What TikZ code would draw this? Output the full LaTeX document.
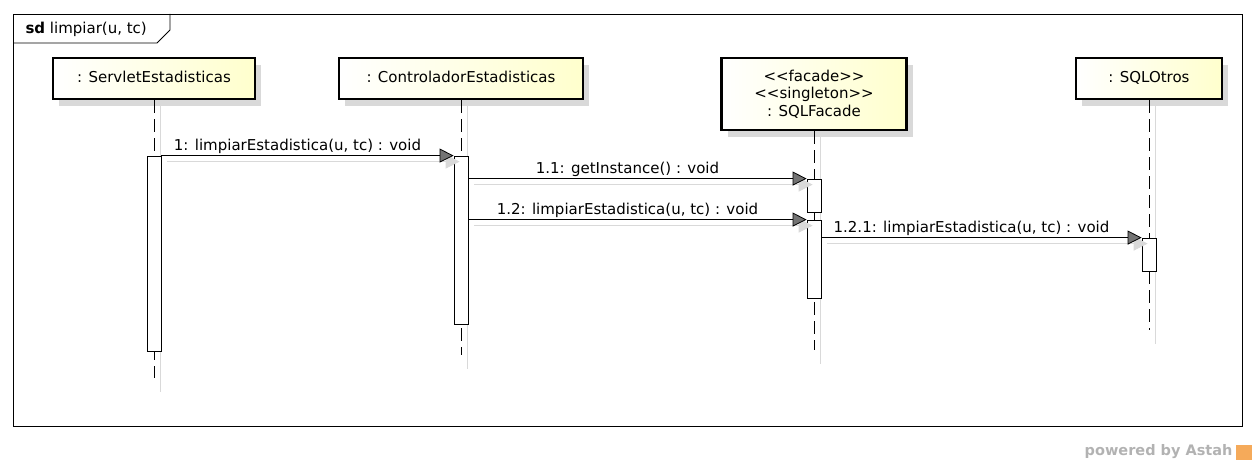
\documentclass[tikz,border=0pt]{standalone}
\usepackage{fontspec}
\setmainfont{DejaVu Sans}
\usetikzlibrary{positioning, calc, arrows.meta, shadows}
\definecolor{headyellow}{RGB}{255,255,205}
\definecolor{shadowgray}{gray}{0.85}
\definecolor{astahorange}{RGB}{245,170,90}
\tikzset{
	every node/.style={font=\fontsize{15}{18}\selectfont},
	lifehead/.style={draw, line width=2.6pt, left color=white, right color=headyellow, align=center, inner sep=0pt, minimum height=41pt, drop shadow={shadow xshift=6pt, shadow yshift=-7pt, fill=shadowgray, opacity=1}},
	activation/.style={draw, fill=white, line width=0.8pt, minimum width=14pt, inner sep=0pt},
	lifeline/.style={line width=0.8pt, dash pattern=on 13pt off 6pt},
	lifeshadow/.style={shadowgray, line width=0.8pt},
	msg/.style={line width=0.8pt, -{Triangle[length=14pt, width=14pt, fill=black!55]}},
	msgshadow/.style={shadowgray, line width=0.8pt, -{Triangle[length=14pt, width=14pt, fill=shadowgray]}},
	msglabel/.style={midway, above, xshift=-10pt, inner sep=2pt}
}

\begin{document}
\begin{tikzpicture}[x=1pt, y=-1pt]
	\useasboundingbox (0,0) rectangle (1256,465);

	%%%%     FRAME     %%%%
	\draw[line width=0.8pt] (13,14) rectangle (1242,426);
	\draw[line width=0.8pt] (13,43) -- (157,43) -- (170,30) -- (170,14);
	\node[anchor=west] (title) at (22,29) {\textbf{sd} limpiar(u, tc)};

	%%%%     LIFELINES     %%%%
	\node[lifehead, minimum width=202pt] (servlet) at (154,78.5) {\raisebox{3pt}{: ServletEstadisticas}};
	\node[lifehead, minimum width=244pt] (control) at (461,78.5) {\raisebox{3pt}{: ControladorEstadisticas}};
	\node[lifehead, minimum width=185pt, minimum height=72pt, font=\fontsize{15}{17.5}\selectfont] (facade) at (814,94) {<{}<facade>{}>\\<{}<singleton>{}>\\: SQLFacade};
	\node[lifehead, minimum width=146pt] (otros) at (1149,78.5) {\raisebox{3pt}{: SQLOtros}};

	% fin des lignes
	\coordinate (servletend) at (154,378);
	\coordinate (controlend) at (461,355);
	\coordinate (facadeend) at (814,350);
	\coordinate (otrosend) at (1149,330);

	\foreach \l in {servlet, control, facade, otros}{
		\draw[lifeshadow] ([xshift=6pt]\l.south) -- ([shift={(6,14)}]\l end);
		\draw[lifeline] (\l.south) -- (\l end);
	}

	%%%%     ACTIVATIONS     %%%%
	\node[activation, minimum height=195pt] (servletact) at (154,253.5) {};
	\node[activation, minimum height=168pt] (controlact) at (461,240) {};
	\node[activation, minimum height=33pt] (facadeact1) at (814,195.5) {};
	\node[activation, minimum height=78pt] (facadeact2) at (814,259) {};
	\node[activation, minimum height=33pt] (otrosact) at (1149,254.5) {};

	%%%%     MESSAGES     %%%%

	% 1
	\draw[msgshadow] ([shift={(6,6)}]servletact.north east) -- ([shift={(6,6)}]controlact.north west);
	\draw[msg] (servletact.north east) -- (controlact.north west) node[msglabel]{1: limpiarEstadistica(u, tc) : void};

	% 1.1
	\draw[msgshadow] ([shift={(6,6)}]controlact.east |- facadeact1.north) -- ([shift={(6,6)}]facadeact1.north west);
	\draw[msg] (controlact.east |- facadeact1.north) -- (facadeact1.north west) node[msglabel]{1.1: getInstance() : void};

	% 1.2
	\draw[msgshadow] ([shift={(6,6)}]controlact.east |- facadeact2.north) -- ([shift={(6,6)}]facadeact2.north west);
	\draw[msg] (controlact.east |- facadeact2.north) -- (facadeact2.north west) node[msglabel]{1.2: limpiarEstadistica(u, tc) : void};

	% 1.2.1
	\draw[msgshadow] ([shift={(6,6)}]facadeact2.east |- otrosact.north) -- ([shift={(6,6)}]otrosact.north west);
	\draw[msg] (facadeact2.east |- otrosact.north) -- (otrosact.north west) node[msglabel]{1.2.1: limpiarEstadistica(u, tc) : void};

	%%%%     ASTAH     %%%%
	\node[anchor=east, text=black!30, font=\fontsize{14.5}{17}\selectfont\bfseries] (powered) at (1236,452) {powered by Astah};
	\node[fill=astahorange, minimum width=16pt, minimum height=15pt, inner sep=0pt, right=0pt of powered] (astahlogo) {};
\end{tikzpicture}
\end{document}
